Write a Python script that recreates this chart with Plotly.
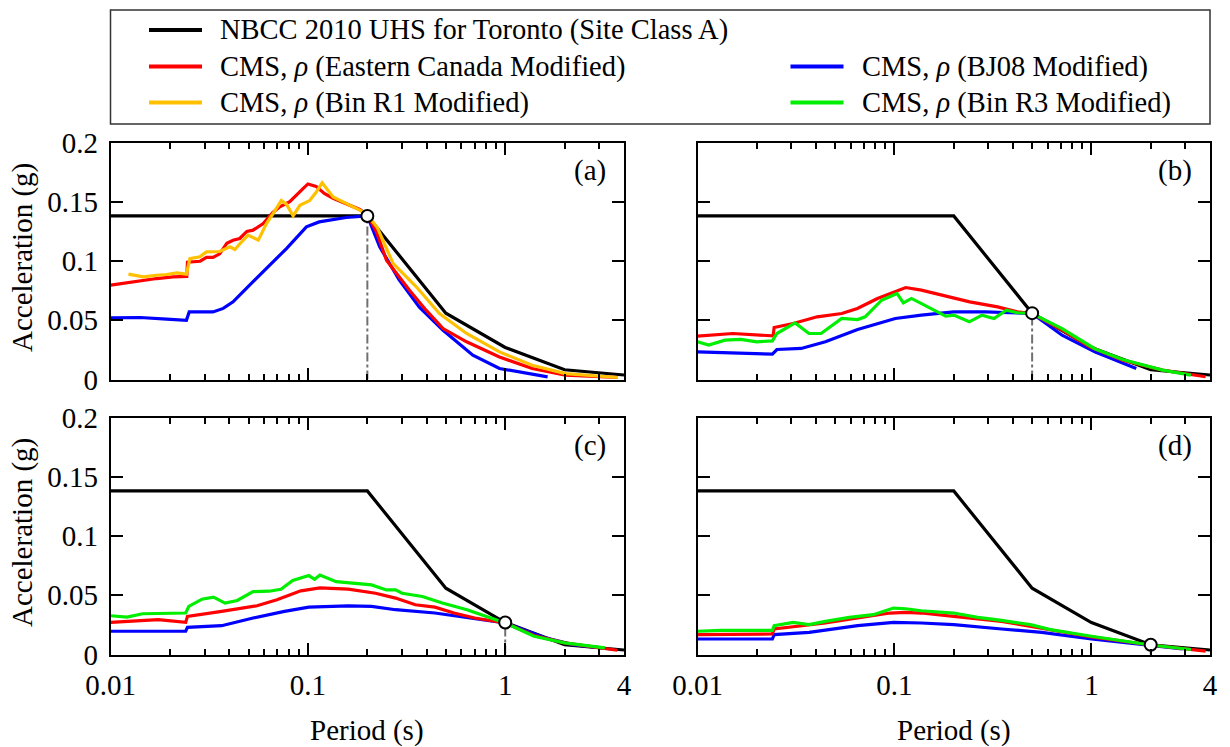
import math
import plotly.graph_objects as go

# ---------------- data ----------------
# NBCC 2010 UHS for Toronto (Site Class A)
uhs_T = [0.01, 0.2, 0.5, 1.0, 2.0, 4.0]
uhs_Sa = [0.138, 0.138, 0.056, 0.027, 0.0082, 0.0038]

# conditioning periods (one per panel a-d)
cond_T = [0.2, 0.5, 1.0, 2.0]
cond_Sa = [0.138, 0.056, 0.027, 0.0082]

# panel (a)  T* = 0.2 s
a_red_T = [0.01, 0.013, 0.0171, 0.0207, 0.0243, 0.0245, 0.0284, 0.0306, 0.033, 0.0357, 0.0388, 0.0417,
           0.0451, 0.049, 0.0527, 0.0593, 0.0664, 0.072, 0.0809, 0.0944, 0.1, 0.110, 0.121, 0.134,
           0.1625, 0.183, 0.2, 0.222, 0.25, 0.327, 0.397, 0.484, 0.637, 0.935, 1.37, 2.02, 3.73]
a_red_Sa = [0.0796, 0.0824, 0.0852, 0.0866, 0.087, 0.099, 0.0998, 0.103, 0.103, 0.106, 0.115, 0.1175,
            0.119, 0.125, 0.126, 0.1316, 0.141, 0.1457, 0.150, 0.161, 0.165, 0.163, 0.157, 0.153,
            0.147, 0.1435, 0.139, 0.125, 0.1007, 0.0754, 0.0585, 0.043, 0.0318, 0.019, 0.0093, 0.0036, 0.0017]
a_yel_T = [0.0123, 0.0146, 0.0171, 0.0192, 0.0216, 0.0242, 0.0252, 0.0283, 0.0306, 0.0357, 0.0402, 0.0426,
           0.046, 0.0497, 0.056, 0.0616, 0.0665, 0.0733, 0.0778, 0.0841, 0.091, 0.102, 0.110, 0.118,
           0.134, 0.156, 0.183, 0.2, 0.225, 0.27, 0.355, 0.464, 0.637, 0.935, 1.37, 2.02, 3.73]
a_yel_Sa = [0.0889, 0.0866, 0.088, 0.0886, 0.090, 0.0889, 0.102, 0.1035, 0.1077, 0.108, 0.112, 0.1097,
            0.116, 0.1218, 0.1176, 0.1316, 0.140, 0.151, 0.148, 0.138, 0.147, 0.151, 0.158, 0.166,
            0.154, 0.1485, 0.143, 0.139, 0.128, 0.098, 0.078, 0.0557, 0.0388, 0.0233, 0.012, 0.005, 0.0017]
a_blu_T = [0.01, 0.0141, 0.0192, 0.0242, 0.025, 0.033, 0.0372, 0.0417, 0.0506, 0.0616, 0.0778, 0.0982,
           0.114, 0.156, 0.2, 0.231, 0.29, 0.367, 0.484, 0.685, 0.935, 1.64]
a_blu_Sa = [0.052, 0.0523, 0.051, 0.050, 0.057, 0.057, 0.060, 0.0655, 0.0796, 0.0937, 0.1105, 0.1288,
            0.133, 0.1367, 0.138, 0.112, 0.084, 0.061, 0.0416, 0.0205, 0.0093, 0.0022]

# panel (b)  T* = 0.5 s
b_red_T = [0.01, 0.0151, 0.0242, 0.0245, 0.0306, 0.0405, 0.054, 0.0648, 0.082, 0.101, 0.114, 0.137,
           0.174, 0.241, 0.334, 0.42, 0.5, 0.711, 0.98, 1.44, 2.3, 3.8]
b_red_Sa = [0.0366, 0.0388, 0.0368, 0.0439, 0.0473, 0.0529, 0.0557, 0.0599, 0.0684, 0.074, 0.0776, 0.0754,
            0.0712, 0.0655, 0.0613, 0.0571, 0.0557, 0.0416, 0.0276, 0.0163, 0.0079, 0.0023]
b_grn_T = [0.01, 0.0114, 0.0138, 0.0166, 0.02, 0.024, 0.0253, 0.0313, 0.0368, 0.0424, 0.054, 0.065,
           0.071, 0.086, 0.103, 0.111, 0.122, 0.137, 0.158, 0.182, 0.2, 0.24, 0.278, 0.32, 0.37, 0.42,
           0.5, 0.71, 1.04, 1.44, 2.3, 3.2]
b_grn_Sa = [0.0318, 0.029, 0.0332, 0.0338, 0.0318, 0.0326, 0.0388, 0.0478, 0.0388, 0.0388, 0.0515, 0.0506,
            0.0529, 0.0669, 0.0726, 0.0647, 0.0684, 0.0641, 0.0585, 0.0534, 0.0543, 0.0487, 0.0543, 0.0515,
            0.0585, 0.0563, 0.0557, 0.043, 0.026, 0.0169, 0.0079, 0.0037]
b_blu_T = [0.01, 0.024, 0.0253, 0.0336, 0.0446, 0.065, 0.101, 0.137, 0.2, 0.29, 0.5, 0.71, 1.04, 1.69]
b_blu_Sa = [0.0233, 0.0214, 0.0253, 0.0262, 0.0318, 0.0422, 0.0515, 0.0543, 0.0571, 0.0571, 0.0557,
            0.0374, 0.0233, 0.0093]

# panel (c)  T* = 1.0 s
c_red_T = [0.01, 0.0174, 0.024, 0.0245, 0.0365, 0.0552, 0.0696, 0.092, 0.115, 0.16, 0.22, 0.278, 0.35,
           0.44, 0.55, 0.70, 1.0, 1.4, 2.0, 3.7]
c_red_Sa = [0.0271, 0.0294, 0.0271, 0.0322, 0.0364, 0.0411, 0.0462, 0.0537, 0.0562, 0.0551, 0.0517,
            0.0476, 0.042, 0.040, 0.035, 0.0308, 0.0266, 0.016, 0.0098, 0.0036]
c_grn_T = [0.01, 0.0121, 0.0145, 0.024, 0.0249, 0.029, 0.0332, 0.038, 0.0438, 0.0527, 0.0634, 0.073,
           0.0837, 0.101, 0.108, 0.115, 0.139, 0.175, 0.21, 0.25, 0.278, 0.30, 0.38, 0.48, 0.64, 1.0,
           1.4, 2.0, 3.2]
c_grn_Sa = [0.0327, 0.0316, 0.0344, 0.035, 0.0406, 0.0467, 0.0484, 0.0434, 0.0456, 0.0531, 0.0534, 0.0551,
            0.0624, 0.0666, 0.0635, 0.0671, 0.0615, 0.0601, 0.0587, 0.0545, 0.0545, 0.0517, 0.049, 0.0434,
            0.0378, 0.0266, 0.0154, 0.0098, 0.0056]
c_blu_T = [0.01, 0.024, 0.0245, 0.0365, 0.0527, 0.076, 0.101, 0.16, 0.21, 0.278, 0.44, 0.55, 1.0, 1.6,
           2.2, 3.1]
c_blu_Sa = [0.0196, 0.0196, 0.0229, 0.0243, 0.0308, 0.0364, 0.040, 0.0411, 0.0406, 0.0378, 0.035, 0.0327,
            0.0266, 0.014, 0.0084, 0.0056]

# panel (d)  T* = 2.0 s
d_red_T = [0.01, 0.024, 0.0245, 0.0446, 0.065, 0.095, 0.114, 0.137, 0.2, 0.35, 0.51, 1.0, 2.0, 3.8]
d_red_Sa = [0.0168, 0.0173, 0.0215, 0.0266, 0.0308, 0.035, 0.0355, 0.035, 0.0322, 0.028, 0.0232, 0.0148,
            0.0080, 0.0028]
d_grn_T = [0.01, 0.0131, 0.024, 0.0245, 0.0306, 0.0369, 0.0446, 0.059, 0.078, 0.099, 0.114, 0.137, 0.2,
           0.265, 0.35, 0.49, 0.62, 1.0, 2.0, 3.2]
d_grn_Sa = [0.0196, 0.0204, 0.0204, 0.0243, 0.0271, 0.0252, 0.028, 0.0313, 0.0336, 0.0392, 0.0386, 0.0369,
            0.035, 0.0313, 0.0288, 0.0252, 0.021, 0.0154, 0.0080, 0.0042]
d_blu_T = [0.01, 0.024, 0.0245, 0.0369, 0.065, 0.099, 0.137, 0.2, 0.35, 0.56, 1.0, 2.0, 2.9]
d_blu_Sa = [0.0131, 0.0131, 0.0168, 0.0187, 0.0243, 0.0271, 0.0266, 0.0252, 0.0215, 0.0187, 0.0131,
            0.0078, 0.0048]

panel_labels = ["(a)", "(b)", "(c)", "(d)"]
legend_labels = ["NBCC 2010 UHS for Toronto (Site Class A)",
                 "CMS, <i>ρ</i> (Eastern Canada Modified)",
                 "CMS, <i>ρ</i> (Bin R1 Modified)",
                 "CMS, <i>ρ</i> (BJ08 Modified)",
                 "CMS, <i>ρ</i> (Bin R3 Modified)"]
x_title = "Period (s)"
y_title = "Acceleration (g)"
x_tickvals = [0.01, 0.1, 1, 4]
x_ticktext = ["0.01", "0.1", "1", "4"]
x_minor = [0.02, 0.03, 0.04, 0.05, 0.06, 0.07, 0.08, 0.09,
           0.2, 0.3, 0.4, 0.5, 0.6, 0.7, 0.8, 0.9, 2, 3]
y_tickvals = [0, 0.05, 0.1, 0.15, 0.2]
y_ticktext = ["0", "0.05", "0.1", "0.15", "0.2"]

# ---------------- style ----------------
FONT = "Liberation Serif"
C_BLACK, C_RED, C_YEL, C_BLUE, C_GRN = "#000000", "#ff0000", "#ffc000", "#0000ff", "#00ee00"
LW = 3.2
W, H = 1230, 747

panels = [
    dict(red=(a_red_T, a_red_Sa), blue=(a_blu_T, a_blu_Sa), extra=(a_yel_T, a_yel_Sa, C_YEL)),
    dict(red=(b_red_T, b_red_Sa), blue=(b_blu_T, b_blu_Sa), extra=(b_grn_T, b_grn_Sa, C_GRN)),
    dict(red=(c_red_T, c_red_Sa), blue=(c_blu_T, c_blu_Sa), extra=(c_grn_T, c_grn_Sa, C_GRN)),
    dict(red=(d_red_T, d_red_Sa), blue=(d_blu_T, d_blu_Sa), extra=(d_grn_T, d_grn_Sa, C_GRN)),
]

# pixel boxes of the four panels: (left, right, top, bottom)
boxes = [(110.7, 624, 142.5, 379.5), (697.5, 1210, 142.5, 379.5),
         (110.7, 624, 417.5, 654.5), (697.5, 1210, 417.5, 654.5)]

fig = go.Figure()
layout = dict(width=W, height=H, margin=dict(l=0, r=0, t=0, b=0, autoexpand=False),
              paper_bgcolor="white", plot_bgcolor="white",
              font=dict(family=FONT, size=29, color="black"),
              showlegend=False)

for i, p in enumerate(panels):
    s = "" if i == 0 else str(i + 1)
    xa, ya = "x" + s, "y" + s
    line_traces = [
        (uhs_T, uhs_Sa, C_BLACK),
        (p["blue"][0], p["blue"][1], C_BLUE),
        (p["red"][0], p["red"][1], C_RED),
        (p["extra"][0], p["extra"][1], p["extra"][2]),
    ]
    for tx, ty, col in line_traces:
        fig.add_trace(go.Scatter(x=tx, y=ty, mode="lines", xaxis=xa, yaxis=ya,
                                 line=dict(color=col, width=LW), hoverinfo="skip"))
    # vertical dash-dot line at conditioning period
    fig.add_trace(go.Scatter(x=[cond_T[i], cond_T[i]], y=[0, cond_Sa[i]], mode="lines",
                             xaxis=xa, yaxis=ya,
                             line=dict(color="#707070", width=2, dash="dashdot"), hoverinfo="skip"))
    # conditioning point
    fig.add_trace(go.Scatter(x=[cond_T[i]], y=[cond_Sa[i]], mode="markers", xaxis=xa, yaxis=ya,
                             marker=dict(size=12, color="white", line=dict(color="black", width=2)),
                             cliponaxis=False, hoverinfo="skip"))

    l, r, t, b = boxes[i]
    bottom_row = i >= 2
    left_col = i % 2 == 0
    layout["xaxis" + s] = dict(
        type="log", range=[-2, math.log10(4)], domain=[l / W, r / W], anchor=ya,
        automargin=False,
        showline=True, linecolor="black", linewidth=2, mirror="ticks",
        ticks="inside", ticklen=12, tickwidth=1.8, tickcolor="black",
        tickmode="array", tickvals=x_tickvals, ticktext=x_ticktext,
        showticklabels=bottom_row, showgrid=False, zeroline=False,
        tickfont=dict(size=29), ticklabelstandoff=4,
        minor=dict(ticks="inside", ticklen=6, tickwidth=1.5, tickcolor="black",
                   tickmode="array", tickvals=x_minor, showgrid=False),
    )
    layout["yaxis" + s] = dict(
        range=[0, 0.2], domain=[1 - b / H, 1 - t / H], anchor=xa,
        automargin=False,
        showline=True, linecolor="black", linewidth=2, mirror="ticks",
        ticks="inside", ticklen=12, tickwidth=1.8, tickcolor="black",
        tickmode="array", tickvals=y_tickvals, ticktext=y_ticktext,
        showticklabels=left_col, showgrid=False, zeroline=False,
        tickfont=dict(size=29), ticklabelstandoff=5,
    )

annotations = []
for i, lab in enumerate(panel_labels):
    l, r, t, b = boxes[i]
    annotations.append(dict(text=lab, xref="paper", yref="paper", x=(r - 16) / W, y=1 - (t + 28) / H,
                            xanchor="right", yanchor="middle", showarrow=False, font=dict(size=29)))
    if i >= 2:
        annotations.append(dict(text=x_title, xref="paper", yref="paper", x=(l + r) / 2 / W,
                                y=1 - 730 / H, xanchor="center", yanchor="middle", showarrow=False,
                                font=dict(size=29)))
    if i % 2 == 0:
        annotations.append(dict(text=y_title, xref="paper", yref="paper", x=22 / W,
                                y=1 - ((t + b) / 2 - 3) / H, xanchor="center", yanchor="middle",
                                textangle=-90, showarrow=False, font=dict(size=29)))

# legend (drawn manually to reproduce the boxed two-column layout)
shapes = [dict(type="rect", xref="paper", yref="paper", x0=110.5 / W, x1=1210 / W,
               y0=1 - 124 / H, y1=1 - 10 / H, line=dict(color="#333333", width=1.5),
               fillcolor="rgba(0,0,0,0)")]
leg_cols = [C_BLACK, C_RED, C_YEL, C_BLUE, C_GRN]
leg_pos = [(149, 30), (149, 66.5), (149, 102.5), (790.5, 66.5), (790.5, 102.5)]
for lab, col, (lx, ly) in zip(legend_labels, leg_cols, leg_pos):
    shapes.append(dict(type="line", xref="paper", yref="paper", x0=lx / W, x1=(lx + 53) / W,
                       y0=1 - ly / H, y1=1 - ly / H, line=dict(color=col, width=4)))
    annotations.append(dict(text=lab, xref="paper", yref="paper", x=(lx + 69) / W, y=1 - ly / H,
                            xanchor="left", yanchor="middle", showarrow=False, font=dict(size=28.5)))

layout["annotations"] = annotations
layout["shapes"] = shapes
fig.update_layout(**layout)
fig.write_html("out.html")
